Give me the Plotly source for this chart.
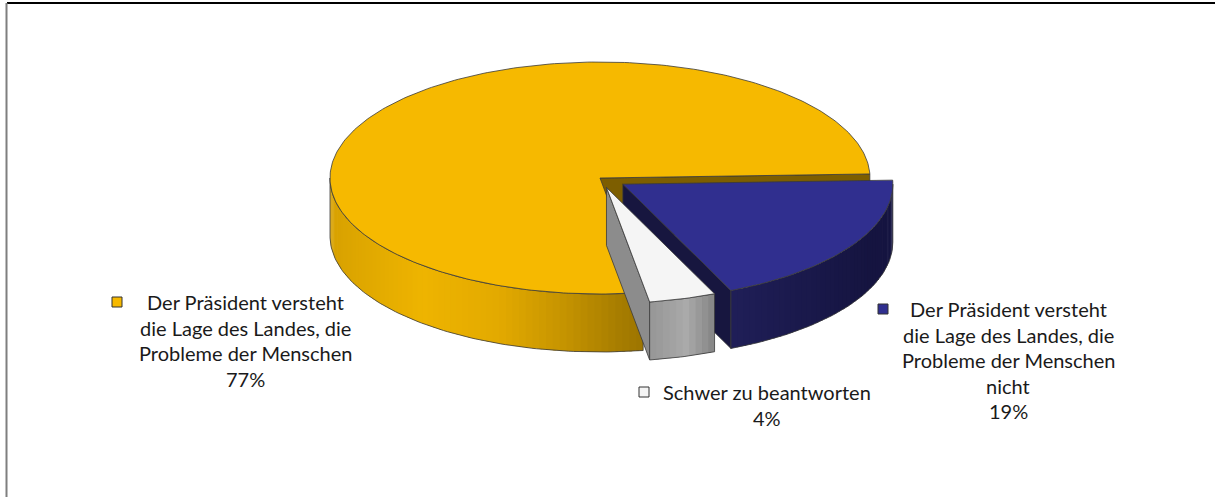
import numpy as np
import plotly.graph_objects as go

# ---- data -------------------------------------------------------------
label_lines = [
    ["Der Präsident versteht", "die Lage des Landes, die", "Probleme der Menschen"],
    ["Der Präsident versteht", "die Lage des Landes, die", "Probleme der Menschen", "nicht"],
    ["Schwer zu beantworten"],
]
values = [77, 19, 4]

# ---- styling ----------------------------------------------------------
top_colors = ["#F6B900", "#302F8F", "#F5F5F5"]
face_colors = ["#7D5E00", "#17163F", "#8C8C8C"]
side_stops = [
    [(0.0, "#D7A100"), (0.17, "#EEB400"), (0.31, "#E3AA00"), (0.43, "#C69400"),
     (0.54, "#A67C00"), (0.6, "#977100"), (1.0, "#8A6800")],
    [(0.7, "#21205C"), (1.0, "#151440")],
    [(0.6, "#989898"), (0.66, "#AAAAAA"), (0.72, "#7E7E7E")],
]
explode = [0.0, 0.1, 0.085]
marker_colors = top_colors

W, H = 1215, 497
CX, CY = 600, 178        # pie centre (pixels)
RX, RY = 270, 116        # ellipse radii of the top face
DEPTH = 58               # thickness of the pie
START = -80.8            # angle where the first slice begins (deg, ccw from 3 o'clock)
EDGE = "#3A3A3A"

label_font = dict(family="Lato", size=20, color="#1A1A1A")
label_pos = [(245, 302), (1008, 309), (767, 392)]   # centre x, first line y
marker_pos = [(117, 302), (883, 309), (644, 392)]
LINE_PITCH = 25.5


def hex2rgb(h):
    h = h.lstrip("#")
    return np.array([int(h[i:i + 2], 16) for i in (0, 2, 4)], dtype=float)


def interp_color(stops, u):
    us = [s[0] for s in stops]
    cols = [hex2rgb(s[1]) for s in stops]
    if u <= us[0]:
        c = cols[0]
    elif u >= us[-1]:
        c = cols[-1]
    else:
        for i in range(len(us) - 1):
            if us[i] <= u <= us[i + 1]:
                f = (u - us[i]) / (us[i + 1] - us[i])
                c = cols[i] * (1 - f) + cols[i + 1] * f
                break
    return "rgb(%d,%d,%d)" % tuple(np.round(c))


def rim(cx, cy, t):
    t = np.radians(np.asarray(t, dtype=float))
    return cx + RX * np.cos(t), cy - RY * np.sin(t)


def arc(a, b, step=1.0):
    n = max(2, int(np.ceil(abs(b - a) / step)) + 1)
    return np.linspace(a, b, n)


fig = go.Figure()


def poly(xs, ys, fill, line_color=EDGE, line_width=0.8):
    fig.add_trace(go.Scatter(
        x=np.append(xs, xs[0]), y=np.append(ys, ys[0]),
        mode="lines", fill="toself", fillcolor=fill,
        line=dict(color=line_color, width=line_width),
        hoverinfo="skip", showlegend=False))


# slice angle spans, going clockwise from START
spans = []
cum = START
for v in values:
    sweep = v * 3.6
    spans.append((cum - sweep, cum))
    cum -= sweep

for i, (lo, hi) in enumerate(spans):
    mid = np.radians((lo + hi) / 2)
    cx = CX + explode[i] * RX * np.cos(mid)
    cy = CY - explode[i] * RY * np.sin(mid)

    # radial cut faces that face the viewer
    for ang, visible in ((lo, np.cos(np.radians(lo)) > 0), (hi, np.cos(np.radians(hi)) < 0)):
        if visible:
            rx_, ry_ = rim(cx, cy, ang)
            poly(np.array([cx, rx_, rx_, cx]), np.array([cy, ry_, ry_ + DEPTH, cy + DEPTH]),
                 face_colors[i])

    # outer wall: only the front half is visible, shaded in narrow overlapping bands
    for k in (-1, 0, 1):
        a, b = max(lo, -180 + 360 * k), min(hi, 360 * k)
        if a >= b:
            continue
        edges = arc(a, b, 1.5)
        for t0, t1 in zip(edges[:-1], edges[1:]):
            ts = arc(t0, min(t1 + 0.6, b), 0.3)
            xs, ys = rim(cx, cy, ts)
            u = (np.mean(rim(cx, cy, [t0, t1])[0]) - (CX - RX)) / (2 * RX)
            col = interp_color(side_stops[i], u)
            poly(np.concatenate([xs, xs[::-1]]), np.concatenate([ys, ys[::-1] + DEPTH]),
                 col, line_color="rgba(0,0,0,0)", line_width=0)
        ts = arc(a, b)
        xs, ys = rim(cx, cy, ts)
        poly(np.concatenate([xs, xs[::-1]]), np.concatenate([ys, ys[::-1] + DEPTH]),
             "rgba(0,0,0,0)")

    # top face
    ts = arc(lo, hi)
    xs, ys = rim(cx, cy, ts)
    poly(np.concatenate([[cx], xs]), np.concatenate([[cy], ys]), top_colors[i])

# ---- labels -----------------------------------------------------------
annotations = []
for i, lines in enumerate(label_lines):
    lx, ly = label_pos[i]
    all_lines = lines + [f"{values[i]}%"]
    for j, line in enumerate(all_lines):
        annotations.append(dict(
            x=lx, y=ly + j * LINE_PITCH, xref="x", yref="y", text=line,
            showarrow=False, xanchor="center", yanchor="middle", font=label_font))

fig.add_trace(go.Scatter(
    x=[p[0] for p in marker_pos], y=[p[1] for p in marker_pos], mode="markers",
    marker=dict(symbol="square", size=10, color=marker_colors,
                line=dict(color="#333333", width=1)),
    hoverinfo="skip", showlegend=False))

# frame lines
shapes = [
    dict(type="line", x0=7, x1=W, y0=3, y1=3, xref="x", yref="y",
         line=dict(color="#000000", width=2)),
    dict(type="line", x0=6.5, x1=6.5, y0=3, y1=H, xref="x", yref="y",
         line=dict(color="#7F7F7F", width=2)),
]

fig.update_layout(
    width=W, height=H, margin=dict(l=0, r=0, t=0, b=0),
    paper_bgcolor="white", plot_bgcolor="white",
    xaxis=dict(range=[0, W], visible=False, fixedrange=True),
    yaxis=dict(range=[H, 0], visible=False, fixedrange=True),
    annotations=annotations, shapes=shapes, showlegend=False,
)

fig.write_html("out.html")
